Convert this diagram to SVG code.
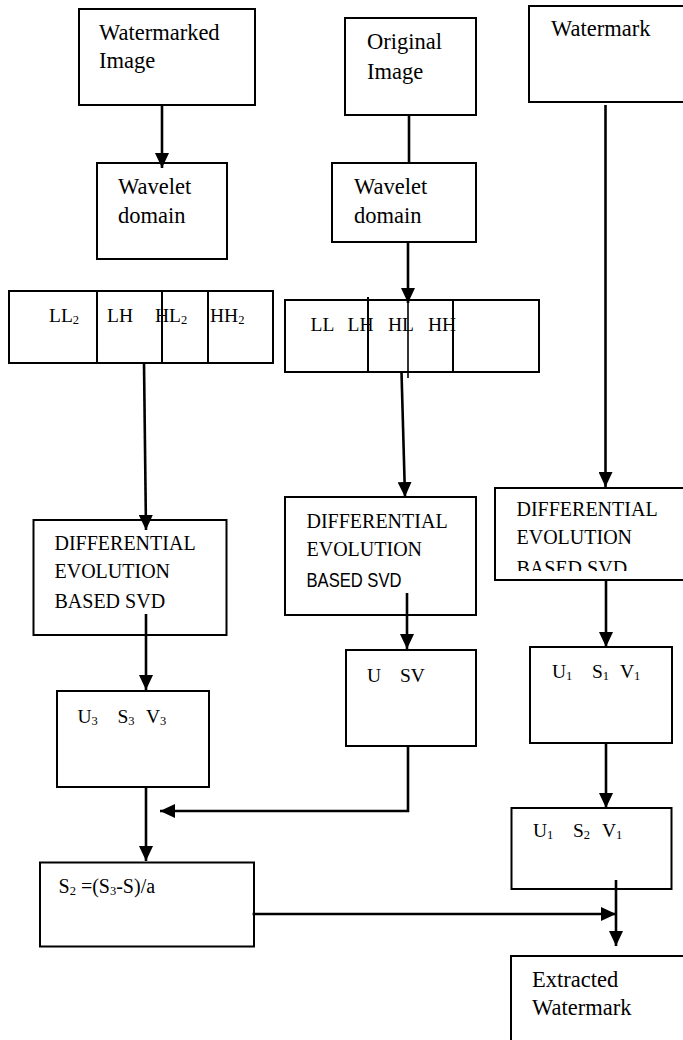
<svg xmlns="http://www.w3.org/2000/svg" width="683" height="1040" viewBox="0 0 683 1040">
<style>
.box{fill:#fff;stroke:#000;stroke-width:2}
.div{stroke:#000;stroke-width:2;fill:none}
.t{font-family:"Liberation Serif","DejaVu Serif",serif;fill:#000}
.big{font-size:22.5px}
.mid{font-size:20px}
.sm{font-size:19.5px}
.sub{font-size:12.5px}
.sans{font-family:"Liberation Sans","DejaVu Sans",sans-serif;font-size:19.5px;fill:#000}
.c{stroke:#000;stroke-width:2.6;fill:none}
.ca{stroke:#000;stroke-width:2.6;fill:none;marker-end:url(#ah)}
.thin{stroke:#000;stroke-width:1.6;fill:none}
</style>
<defs>
<marker id="ah" markerUnits="userSpaceOnUse" markerWidth="15" markerHeight="14" refX="15" refY="7" orient="auto">
<path d="M0,0 L15,7 L0,14 z" fill="#000"/>
</marker>
<clipPath id="clip3"><rect x="490" y="480" width="200" height="91"/></clipPath>
</defs>
<rect width="683" height="1040" fill="#fff"/>

<g id="n1"><rect class="box" x="79" y="9" width="176" height="96"/>
<text class="t big" x="99" y="40">Watermarked</text><text class="t big" x="99" y="68">Image</text></g>
<g id="n2"><rect class="box" x="345" y="18" width="131" height="97"/>
<text class="t big" x="367" y="49">Original</text><text class="t big" x="367" y="79">Image</text></g>
<g id="n3"><rect class="box" x="529" y="6" width="170" height="96"/>
<text class="t big" x="551" y="36">Watermark</text></g>
<g id="n4"><rect class="box" x="97" y="163" width="130" height="96"/>
<text class="t big" x="118" y="194">Wavelet</text><text class="t big" x="118" y="223">domain</text></g>
<g id="n5"><rect class="box" x="332" y="163" width="144" height="79"/>
<text class="t big" x="354" y="194">Wavelet</text><text class="t big" x="354" y="223">domain</text></g>

<g id="n6"><rect class="box" x="9" y="291" width="264" height="72"/>
<path class="div" d="M97,291V363M162,291V363M208,291V363"/>
<text class="t sm" y="322"><tspan x="49">LL</tspan><tspan class="sub" dy="2">2</tspan><tspan x="107" dy="-2">LH</tspan><tspan x="155">HL</tspan><tspan class="sub" dy="2">2</tspan><tspan x="210" dy="-2">HH</tspan><tspan class="sub" dy="2">2</tspan></text></g>

<g id="n7"><rect class="box" x="285" y="300" width="254" height="72"/>
<path class="div" d="M368,297V372M453,300V372"/>
<text class="t sm" y="331"><tspan x="310.5">LL</tspan><tspan x="347.5">LH</tspan><tspan x="388">HL</tspan><tspan x="428">HH</tspan></text></g>

<g id="n8"><rect class="box" x="33.5" y="520" width="193" height="115"/>
<text class="t mid" x="54.5" y="550">DIFFERENTIAL</text><text class="t mid" x="54.5" y="578">EVOLUTION</text><text class="t mid" x="54.5" y="608">BASED SVD</text></g>
<g id="n9"><rect class="box" x="285" y="497" width="191" height="118"/>
<text class="t mid" x="306.5" y="528">DIFFERENTIAL</text><text class="t mid" x="306.5" y="556">EVOLUTION</text><text class="sans" x="306.5" y="587" textLength="95" lengthAdjust="spacingAndGlyphs">BASED SVD</text></g>
<g id="n10"><rect class="box" x="495" y="488" width="200" height="92"/>
<text class="t mid" x="516.5" y="516">DIFFERENTIAL</text><text class="t mid" x="516.5" y="544">EVOLUTION</text><text class="t mid" x="516.5" y="575" clip-path="url(#clip3)">BASED SVD</text></g>

<g id="n11"><rect class="box" x="57" y="691" width="152" height="96"/>
<text class="t sm" y="723"><tspan x="77.5">U</tspan><tspan class="sub" dy="2">3</tspan><tspan x="117.5" dy="-2">S</tspan><tspan class="sub" dy="2">3</tspan><tspan x="146" dy="-2">V</tspan><tspan class="sub" dy="2">3</tspan></text></g>
<g id="n12"><rect class="box" x="346" y="650" width="130" height="96"/>
<text class="t sm" y="682"><tspan x="367">U</tspan><tspan x="400">SV</tspan></text></g>
<g id="n13"><rect class="box" x="530" y="647" width="142" height="96"/>
<text class="t sm" y="678"><tspan x="552">U</tspan><tspan class="sub" dy="2">1</tspan><tspan x="592" dy="-2">S</tspan><tspan class="sub" dy="2">1</tspan><tspan x="620" dy="-2">V</tspan><tspan class="sub" dy="2">1</tspan></text></g>
<g id="n14"><rect class="box" x="511.5" y="808" width="160" height="81"/>
<text class="t sm" y="837"><tspan x="533">U</tspan><tspan class="sub" dy="2">1</tspan><tspan x="573" dy="-2">S</tspan><tspan class="sub" dy="2">2</tspan><tspan x="602" dy="-2">V</tspan><tspan class="sub" dy="2">1</tspan></text></g>
<g id="n15"><rect class="box" x="40" y="862.5" width="214" height="84"/>
<text class="t mid" x="58.5" y="893">S<tspan class="sub" dy="2">2</tspan><tspan dy="-2"> =(S</tspan><tspan class="sub" dy="2">3</tspan><tspan dy="-2">-S)/a</tspan></text></g>
<g id="n16"><rect class="box" x="511" y="956" width="200" height="100"/>
<text class="t big" x="532" y="987">Extracted</text><text class="t big" x="532" y="1015">Watermark</text></g>

<g id="connectors">
<path class="ca" d="M162,105V168"/>
<path class="c" d="M409,115V163"/>
<path class="ca" d="M408,242V303"/>
<path class="thin" d="M408,300V378"/>
<path class="ca" d="M144,363L146,530"/>
<path class="ca" d="M401.5,372L405,497"/>
<path class="ca" d="M605.5,105V487"/>
<path class="ca" d="M146,614V690"/>
<path class="ca" d="M407,593V649"/>
<path class="ca" d="M606,580V647"/>
<path class="ca" d="M606,743V808"/>
<path class="ca" d="M408,746V811H160"/>
<path class="ca" d="M146,787V861"/>
<path class="ca" d="M252.6,914H616"/>
<path class="ca" d="M616,880V946"/>
</g>
</svg>
